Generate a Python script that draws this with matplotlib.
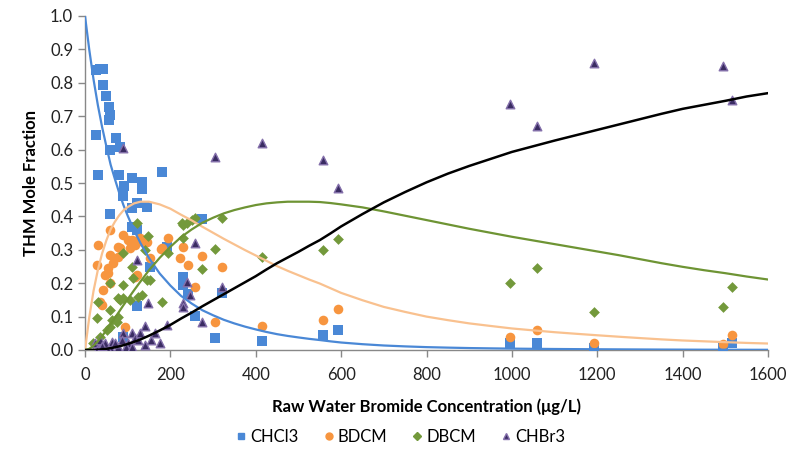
import matplotlib
matplotlib.use("Agg")
import matplotlib.pyplot as plt
from matplotlib.lines import Line2D

plt.rcParams['font.family'] = ['Lato', 'DejaVu Sans']

# ---- scatter data ----
chcl3_x = [25, 35, 42, 42, 49, 56, 59, 56, 26, 73, 59, 82, 30, 80, 110, 180, 133, 91, 133, 89,
           110, 122, 145, 59, 110, 122, 192, 152, 274, 230, 230, 241, 258, 304, 321, 415, 122, 89,
           557, 593, 995, 1058, 1192, 1494, 1515]
chcl3_y = [0.838, 0.841, 0.840, 0.793, 0.760, 0.727, 0.704, 0.689, 0.644, 0.635, 0.599, 0.608, 0.524,
           0.524, 0.515, 0.533, 0.503, 0.491, 0.482, 0.461, 0.425, 0.440, 0.428, 0.407, 0.368, 0.359,
           0.308, 0.249, 0.392, 0.219, 0.195, 0.168, 0.102, 0.036, 0.171, 0.027, 0.132, 0.040,
           0.045, 0.060, 0.021, 0.021, 0.005, 0.008, 0.021]

bdcm_x = [27, 59, 77, 54, 66, 47, 59, 42, 35, 40, 122, 152, 94, 59, 31, 89, 110, 124, 136, 82,
          105, 117, 54, 117, 194, 178, 230, 222, 241, 258, 274, 321, 304, 415, 557, 593,
          995, 1058, 1192, 1494, 1515, 101, 129, 145, 77, 180]
bdcm_y = [0.254, 0.284, 0.279, 0.245, 0.260, 0.225, 0.200, 0.180, 0.144, 0.135, 0.225, 0.275, 0.069,
          0.359, 0.314, 0.344, 0.329, 0.329, 0.323, 0.305, 0.305, 0.314, 0.230, 0.219, 0.335, 0.302,
          0.308, 0.275, 0.254, 0.189, 0.281, 0.250, 0.084, 0.072, 0.090, 0.123,
          0.038, 0.060, 0.021, 0.018, 0.045, 0.329, 0.335, 0.323, 0.308, 0.305]

dbcm_x = [122, 148, 89, 141, 110, 152, 59, 89, 112, 133, 89, 77, 105, 31, 180, 59, 77, 28, 63, 52,
          35, 19, 230, 239, 250, 258, 321, 230, 194, 304, 274, 415, 557, 593, 995, 1058, 1192,
          1494, 1515, 124, 59, 75, 145, 227, 82]
dbcm_y = [0.380, 0.340, 0.290, 0.300, 0.250, 0.210, 0.200, 0.195, 0.215, 0.165, 0.156, 0.156, 0.150,
          0.144, 0.144, 0.120, 0.100, 0.096, 0.090, 0.060, 0.040, 0.020, 0.374, 0.380, 0.390, 0.395,
          0.395, 0.335, 0.290, 0.303, 0.242, 0.279, 0.300, 0.332, 0.200, 0.245, 0.113,
          0.128, 0.189, 0.159, 0.069, 0.084, 0.210, 0.380, 0.150]

chbr3_x = [89, 122, 148, 141, 192, 176, 258, 239, 246, 230, 230, 274, 321, 89, 304, 415, 557, 593,
           995, 1058, 1192, 1494, 1515, 23, 35, 47, 59, 63, 77, 87, 101, 110, 117, 124, 129, 141,
           35, 47, 54, 28, 70, 95, 110, 40, 155, 163]
chbr3_y = [0.605, 0.270, 0.141, 0.072, 0.075, 0.020, 0.320, 0.204, 0.165, 0.141, 0.129, 0.084, 0.189,
           0.050, 0.578, 0.620, 0.569, 0.485, 0.737, 0.671, 0.859, 0.850, 0.749, 0.020, 0.006, 0.005,
           0.010, 0.024, 0.010, 0.030, 0.020, 0.050, 0.036, 0.030, 0.050, 0.015,
           0.030, 0.020, 0.000, 0.000, 0.020, 0.010, 0.010, 0.012, 0.030, 0.050]

# ---- model curves ----
curve_x = [0, 10, 20, 30, 40, 50, 60, 70, 80, 90, 100, 115, 130, 150, 175, 200, 225, 250, 275, 300,
           325, 350, 375, 400, 425, 450, 475, 500, 525, 550, 575, 600, 650, 700, 750, 800, 850,
           900, 950, 1000, 1050, 1100, 1150, 1200, 1250, 1300, 1350, 1400, 1450, 1500, 1550, 1600]
curve_chcl3 = [1.0, 0.899, 0.810, 0.734, 0.668, 0.610, 0.555, 0.512, 0.471, 0.434, 0.402, 0.358, 0.320,
               0.275, 0.229, 0.193, 0.162, 0.139, 0.119, 0.104, 0.0905, 0.0795, 0.0699, 0.0616,
               0.0540, 0.0474, 0.0421, 0.0376, 0.0334, 0.0298, 0.0259, 0.0224, 0.0174, 0.0135,
               0.0108, 0.0086, 0.0071, 0.0058, 0.0049, 0.0041, 0.0035, 0.0030, 0.0026, 0.0022,
               0.0019, 0.0016, 0.0013, 0.0011, 0.0009, 0.0008, 0.0007, 0.0006]
curve_bdcm = [0.0, 0.098, 0.177, 0.239, 0.289, 0.328, 0.361, 0.384, 0.403, 0.418, 0.428, 0.439, 0.444,
              0.444, 0.436, 0.423, 0.405, 0.388, 0.369, 0.351, 0.333, 0.316, 0.299, 0.283, 0.267,
              0.251, 0.237, 0.224, 0.211, 0.199, 0.185, 0.171, 0.149, 0.129, 0.114, 0.100, 0.0894,
              0.0797, 0.0720, 0.0645, 0.0588, 0.0533, 0.0486, 0.0441, 0.0398, 0.0357, 0.0318,
              0.0285, 0.0260, 0.0235, 0.0212, 0.0194]
curve_dbcm = [0.0, 0.0035, 0.0129, 0.026, 0.0416, 0.0588, 0.0781, 0.096, 0.115, 0.134, 0.152, 0.179,
              0.205, 0.239, 0.276, 0.309, 0.338, 0.361, 0.381, 0.396, 0.409, 0.419, 0.427, 0.434,
              0.439, 0.442, 0.444, 0.444, 0.444, 0.443, 0.440, 0.436, 0.427, 0.415, 0.402, 0.389,
              0.376, 0.363, 0.351, 0.339, 0.328, 0.317, 0.306, 0.295, 0.284, 0.272, 0.260, 0.249,
              0.239, 0.230, 0.220, 0.211]
curve_chbr3 = [0.0, 0.00004, 0.0003, 0.0009, 0.0020, 0.0035, 0.0056, 0.008, 0.0109, 0.0143, 0.018,
               0.0244, 0.0316, 0.0429, 0.0584, 0.0752, 0.0942, 0.112, 0.131, 0.149, 0.167, 0.185,
               0.203, 0.221, 0.241, 0.260, 0.277, 0.294, 0.312, 0.329, 0.349, 0.370, 0.407, 0.442,
               0.473, 0.502, 0.528, 0.551, 0.572, 0.593, 0.610, 0.627, 0.643, 0.659, 0.675, 0.691,
               0.707, 0.722, 0.734, 0.746, 0.759, 0.769]

x_ticks = [0, 200, 400, 600, 800, 1000, 1200, 1400, 1600]
y_ticks = [0.0, 0.1, 0.2, 0.3, 0.4, 0.5, 0.6, 0.7, 0.8, 0.9, 1.0]

BLUE = '#4a88d6'
ORANGE = '#f7953f'
ORANGE_LINE = '#f9c18f'
GREEN = '#73993b'
GREEN_LINE = '#6e9434'
PURPLE = '#3a2c62'
PURPLE_EDGE = '#8470ab'

fig = plt.figure(figsize=(7.92, 4.53), dpi=100)
ax = fig.add_axes([85/792, 1-350/453, (768-85)/792, (350-16)/453])

ax.scatter(chcl3_x, chcl3_y, marker='s', s=42, color=BLUE, linewidths=0, zorder=3)
ax.scatter(bdcm_x, bdcm_y, marker='o', s=48, color=ORANGE, linewidths=0, zorder=3)
ax.scatter(dbcm_x, dbcm_y, marker='D', s=30, color=GREEN, linewidths=0, zorder=3)
ax.scatter(chbr3_x, chbr3_y, marker='^', s=38, color=PURPLE, edgecolors=PURPLE_EDGE,
           linewidths=1.0, zorder=3)

ax.plot(curve_x, curve_chcl3, color=BLUE, lw=1.6, zorder=4)
ax.plot(curve_x, curve_bdcm, color=ORANGE_LINE, lw=1.6, zorder=4)
ax.plot(curve_x, curve_dbcm, color=GREEN_LINE, lw=1.6, zorder=4)
ax.plot(curve_x, curve_chbr3, color='black', lw=1.8, zorder=4)

ax.set_xlim(0, 1600)
ax.set_ylim(0, 1.0)
ax.set_xticks(x_ticks)
ax.set_yticks(y_ticks)
ax.set_yticklabels([f'{v:.1f}' for v in y_ticks])
ax.tick_params(axis='both', labelsize=12, colors='#222222', length=5, width=1,
               direction='out', color='#888888')
ax.tick_params(axis='x', pad=7)
for s in ['top', 'right']:
    ax.spines[s].set_visible(False)
for s in ['left', 'bottom']:
    ax.spines[s].set_color('#888888')
    ax.spines[s].set_linewidth(1.0)

ax.set_xlabel('Raw Water Bromide Concentration (\u03bcg/L)', fontsize=12, fontweight='bold',
              labelpad=11)
ax.set_ylabel('THM Mole Fraction', fontsize=12, fontweight='bold', labelpad=8)

handles = [
    Line2D([], [], ls='none', marker='s', ms=5, color=BLUE),
    Line2D([], [], ls='none', marker='o', ms=5, color=ORANGE),
    Line2D([], [], ls='none', marker='D', ms=4, color=GREEN),
    Line2D([], [], ls='none', marker='^', ms=5, color=PURPLE, markeredgecolor=PURPLE_EDGE),
]
fig.legend(handles, ['CHCl3', 'BDCM', 'DBCM', 'CHBr3'], loc='center', ncol=4,
           bbox_to_anchor=(0.505, 1-437/453), frameon=False, fontsize=12,
           handletextpad=0.15, columnspacing=1.4, handlelength=0.8)

fig.savefig('out.png', dpi=100)
